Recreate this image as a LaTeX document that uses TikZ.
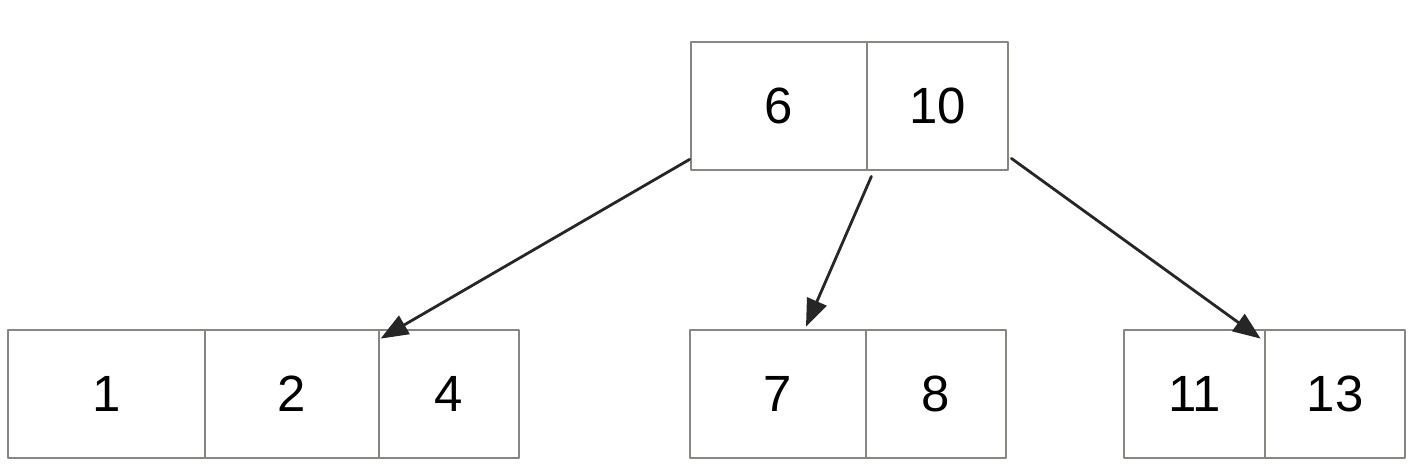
\documentclass[tikz,border=0pt]{standalone}
\usepackage{fontspec}
\setmainfont{Liberation Sans}
\usetikzlibrary{arrows.meta, calc, positioning}
\definecolor{cellgray}{RGB}{135, 135, 130}

\begin{document}
\begin{tikzpicture}[line cap=round, line join=round, >={Triangle[length=0.55cm,width=0.42cm]}, x=0.02cm, y=-0.02cm,
	cell/.style={draw=cellgray, line width=1.6pt, minimum height=2.56cm, inner sep=0pt, font=\fontsize{29}{34}\selectfont},
	link/.style={->, black!85, line width=1.6pt}]

		\useasboundingbox (0,0) rectangle (1420,466);

		% root node
		\node [cell, minimum width=3.52cm] (t6) at (779,106) {6};
		\node [cell, minimum width=2.82cm] (t10) at (937.5,106) {10};

		% leaf nodes
		\node [cell, minimum width=3.94cm] (b1) at (106.5,394) {1};
		\node [cell, minimum width=3.48cm] (b2) at (292,394) {2};
		\node [cell, minimum width=2.80cm] (b4) at (449,394) {4};

		\node [cell, minimum width=3.52cm] (b7) at (778,394) {7};
		\node [cell, minimum width=2.80cm] (b8) at (936,394) {8};

		\node [cell, minimum width=2.82cm] (b11) at (1194.5,394) {11};
		\node [cell, minimum width=2.80cm] (b13) at (1335,394) {13};

		% pointers
		\draw [link] ([yshift=0.24cm]t6.south west) -- ([xshift=0.06cm,yshift=-0.2cm]b4.north west);
		\draw [link] ([xshift=0.06cm,yshift=-0.1cm]t6.south east) -- ([xshift=0.56cm,yshift=0.04cm]b7.north);
		\draw [link] ([xshift=0.04cm,yshift=0.26cm]t10.south east) -- ([xshift=-0.06cm,yshift=-0.2cm]b13.north west);
    \end{tikzpicture}
\end{document}
